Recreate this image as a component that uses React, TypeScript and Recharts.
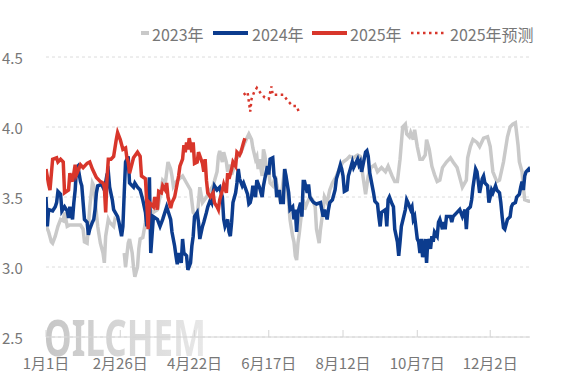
import React from "react";
import { LineChart, Line, XAxis, YAxis, CartesianGrid } from "recharts";

// ---- axis labels ----
const xTickDays = [0, 56, 112, 168, 224, 280, 335];
const xTickLabels = ["1月1日", "2月26日", "4月22日", "6月17日", "8月12日", "10月7日", "12月2日"];
const yTicks = [2.5, 3.0, 3.5, 4.0, 4.5];

// ---- series: [day of year, price] ----
const s2023: Array<[number, number | null]> = [
  [0, 3.30], [2, 3.25], [4, 3.18], [5, 3.17], [7, 3.22], [9, 3.29], [11, 3.34], [13, 3.33], [14, 3.39],
  [16, 3.29], [18, 3.30], [20, 3.30], [26, 3.30], [28, 3.27], [29, 3.18], [31, 3.17], [32, 3.29], [33, 3.43],
  [35, 3.60], [36, 3.58], [37, 3.48], [39, 3.29], [41, 3.17], [43, 3.10], [44, 3.03], [45, 3.22], [47, 3.34],
  [48, 3.32], [51, 3.29], [52, 3.34], [53, 3.33], [56, null], [59, 3.10], [60, 3.00], [62, 3.17], [63, 3.20],
  [65, 3.10], [66, 3.00], [67, 2.93], [69, 3.00], [70, 3.13], [71, 3.20], [73, 3.21], [75, 3.32], [76, 3.40],
  [78, 3.41], [81, 3.39], [84, 3.41], [86, 3.50], [88, 3.62], [90, 3.60], [92, 3.75], [94, 3.70], [95, 3.65],
  [96, 3.58], [97, 3.60], [103, 3.65], [106, 3.60], [109, 3.55], [111, 3.39], [114, 3.36], [115, 3.46],
  [116, 3.57], [118, 3.46], [121, 3.50], [124, 3.55], [126, 3.58], [129, 3.68], [130, 3.79], [131, 3.83],
  [133, 3.75], [134, 3.82], [136, 3.75], [137, 3.68], [139, 3.73], [140, 3.66], [142, 3.72], [143, 3.77],
  [145, 3.79], [147, 3.82], [150, 3.89], [152, 3.93], [153, 3.95], [155, 3.91], [156, 3.85], [158, 3.77],
  [159, 3.79], [160, 3.70], [161, 3.77], [163, 3.65], [164, 3.84], [165, 3.80], [167, 3.65], [168, 3.68],
  [169, 3.60], [171, 3.58], [173, 3.65], [174, 3.59], [176, 3.50], [178, 3.55], [180, 3.70], [181, 3.63],
  [183, 3.46], [184, 3.34], [186, 3.22], [187, 3.18], [188, 3.08], [189, 3.05], [190, 3.17], [191, 3.24],
  [193, 3.41], [194, 3.48], [195, 3.41], [197, 3.46], [199, 3.50], [201, 3.48], [203, 3.43], [204, 3.27],
  [206, 3.17], [207, 3.27], [209, 3.41], [210, 3.50], [212, 3.46], [214, 3.55], [216, 3.60], [219, 3.65],
  [222, 3.72], [224, 3.75], [227, 3.77], [229, 3.79], [232, 3.78], [235, 3.80], [237, 3.79], [239, 3.65],
  [241, 3.52], [243, 3.65], [245, 3.71], [248, 3.73], [250, 3.68], [253, 3.71], [256, 3.68], [258, 3.72],
  [261, 3.65], [263, 3.61], [265, 3.61], [267, 3.77], [269, 4.00], [271, 4.02], [272, 3.95], [274, 3.93],
  [275, 3.96], [277, 3.91], [278, 3.98], [280, 3.86], [282, 3.77], [284, 3.77], [286, 3.80], [287, 3.91],
  [289, 3.84], [291, 3.72], [293, 3.66], [295, 3.61], [297, 3.62], [299, 3.71], [302, 3.75], [305, 3.78],
  [307, 3.75], [310, 3.71], [312, 3.64], [314, 3.57], [317, 3.62], [318, 3.78], [320, 3.86], [322, 3.91],
  [325, 3.89], [327, 3.86], [330, 3.92], [333, 3.93], [335, 3.86], [337, 3.68], [340, 3.61], [342, 3.62],
  [345, 3.75], [348, 3.93], [350, 4.00], [352, 4.02], [354, 4.03], [356, 3.87], [357, 3.75], [359, 3.68],
  [360, 3.57], [361, 3.48], [364, 3.47], [365, 3.47],
];

const s2024: Array<[number, number]> = [
  [0, 3.50], [1, 3.29], [2, 3.41], [5, 3.40], [7, 3.43], [8, 3.46], [9, 3.54], [11, 3.52], [12, 3.40],
  [14, 3.43], [16, 3.40], [17, 3.35], [18, 3.43], [20, 3.34], [21, 3.46], [22, 3.55], [23, 3.71], [24, 3.72],
  [26, 3.61], [27, 3.58], [28, 3.46], [29, 3.34], [31, 3.32], [32, 3.23], [33, 3.27], [35, 3.32], [36, 3.34],
  [37, 3.41], [38, 3.53], [39, 3.58], [42, 3.59], [44, 3.55], [46, 3.66], [47, 3.68], [48, 3.57], [50, 3.48],
  [51, 3.41], [54, 3.36], [55, 3.32], [57, 3.22], [58, 3.29], [59, 3.53], [60, 3.75], [62, 3.79], [63, 3.60],
  [66, 3.57], [67, 3.60], [69, 3.57], [71, 3.55], [73, 3.48], [75, 3.39], [76, 3.29], [78, 3.64], [79, 3.10],
  [81, 3.36], [84, 3.34], [86, 3.29], [88, 3.34], [91, 3.43], [92, 3.40], [94, 3.34], [95, 3.25], [97, 3.15],
  [98, 3.08], [99, 3.02], [100, 3.10], [102, 3.03], [103, 3.20], [104, 3.10], [106, 3.08], [107, 2.98],
  [109, 3.03], [110, 3.15], [111, 3.22], [112, 3.36], [114, 3.39], [115, 3.32], [116, 3.20], [118, 3.29],
  [119, 3.32], [121, 3.39], [122, 3.43], [124, 3.48], [125, 3.46], [126, 3.53], [127, 3.58], [129, 3.55],
  [131, 3.57], [133, 3.50], [134, 3.34], [135, 3.29], [137, 3.34], [138, 3.25], [139, 3.22], [140, 3.32],
  [141, 3.46], [143, 3.53], [144, 3.60], [145, 3.70], [146, 3.63], [148, 3.58], [149, 3.60], [152, 3.52],
  [153, 3.45], [154, 3.46], [155, 3.50], [156, 3.58], [158, 3.50], [159, 3.62], [161, 3.57], [163, 3.50],
  [164, 3.58], [165, 3.63], [167, 3.72], [168, 3.66], [169, 3.77], [171, 3.78], [172, 3.65], [173, 3.63],
  [174, 3.50], [176, 3.55], [177, 3.46], [179, 3.46], [180, 3.70], [181, 3.65], [183, 3.53], [184, 3.41],
  [186, 3.43], [187, 3.34], [188, 3.41], [189, 3.25], [190, 3.39], [192, 3.46], [193, 3.36], [194, 3.61],
  [195, 3.61], [197, 3.53], [198, 3.59], [199, 3.50], [201, 3.47], [202, 3.46], [204, 3.45], [207, 3.46],
  [208, 3.41], [209, 3.36], [210, 3.41], [212, 3.34], [213, 3.41], [214, 3.46], [216, 3.48], [218, 3.55],
  [219, 3.63], [220, 3.66], [222, 3.73], [223, 3.70], [224, 3.65], [225, 3.54], [227, 3.55], [228, 3.65],
  [231, 3.75], [232, 3.71], [235, 3.77], [236, 3.73], [237, 3.75], [238, 3.68], [241, 3.82], [242, 3.83],
  [243, 3.79], [244, 3.68], [246, 3.58], [247, 3.53], [248, 3.47], [250, 3.45], [251, 3.36], [252, 3.29],
  [253, 3.39], [256, 3.41], [257, 3.29], [258, 3.48], [259, 3.50], [261, 3.45], [262, 3.43], [263, 3.27],
  [265, 3.18], [266, 3.08], [267, 3.18], [268, 3.29], [271, 3.41], [272, 3.48], [273, 3.46], [275, 3.41],
  [276, 3.43], [277, 3.34], [278, 3.36], [280, 3.20], [281, 3.18], [282, 3.10], [283, 3.20], [284, 3.07],
  [286, 3.20], [287, 3.03], [288, 3.20], [290, 3.13], [291, 3.22], [292, 3.18], [293, 3.25], [295, 3.22],
  [296, 3.32], [297, 3.34], [299, 3.27], [300, 3.32], [301, 3.27], [302, 3.36], [305, 3.36], [306, 3.32],
  [307, 3.36], [310, 3.39], [312, 3.41], [314, 3.36], [316, 3.41], [317, 3.27], [318, 3.41], [320, 3.43],
  [321, 3.48], [322, 3.57], [324, 3.70], [325, 3.68], [326, 3.61], [327, 3.53], [329, 3.63], [330, 3.65],
  [331, 3.60], [333, 3.58], [334, 3.46], [335, 3.50], [336, 3.55], [337, 3.53], [339, 3.58], [340, 3.55],
  [342, 3.53], [343, 3.46], [344, 3.36], [345, 3.28], [346, 3.27], [348, 3.34], [350, 3.36], [351, 3.43],
  [352, 3.45], [354, 3.46], [355, 3.50], [357, 3.52], [358, 3.57], [359, 3.61], [360, 3.55], [361, 3.65],
  [362, 3.68], [364, 3.70], [365, 3.68],
];

const s2025: Array<[number, number]> = [
  [0, 3.70], [2, 3.59], [3, 3.55], [5, 3.77], [8, 3.78], [9, 3.75], [11, 3.77], [13, 3.75], [14, 3.53],
  [17, 3.55], [18, 3.67], [20, 3.61], [22, 3.73], [23, 3.66], [26, 3.73], [28, 3.71], [31, 3.74], [33, 3.75],
  [35, 3.70], [38, 3.64], [41, 3.61], [43, 3.60], [44, 3.57], [45, 3.39], [46, 3.63], [47, 3.77], [49, 3.77],
  [51, 3.79], [53, 3.91], [54, 3.96], [56, 3.91], [58, 3.84], [60, 3.85], [61, 3.78], [62, 3.75], [63, 3.67],
  [66, 3.78], [69, 3.82], [71, 3.79], [72, 3.65], [75, 3.63], [76, 3.46], [77, 3.27], [78, 3.46], [81, 3.43],
  [82, 3.50], [84, 3.41], [85, 3.54], [87, 3.53], [88, 3.58], [90, 3.55], [91, 3.60], [92, 3.50], [94, 3.42],
  [95, 3.46], [97, 3.50], [100, 3.65], [101, 3.72], [103, 3.77], [104, 3.87], [105, 3.82], [106, 3.89],
  [107, 3.84], [108, 3.92], [110, 3.82], [111, 3.89], [112, 3.74], [114, 3.75], [115, 3.82], [118, 3.74],
  [119, 3.68], [120, 3.77], [121, 3.62], [122, 3.53], [124, 3.50], [126, 3.53], [127, 3.46], [129, 3.43],
  [130, 3.41], [131, 3.48], [133, 3.55], [134, 3.59], [136, 3.53], [137, 3.67], [138, 3.63], [140, 3.70],
  [141, 3.75], [143, 3.72], [144, 3.82], [146, 3.80], [147, 3.82], [149, 3.89], [150, 3.92],
];

const s2025f: Array<[number, number]> = [
  [149, 4.23], [152, 4.25], [154, 4.11], [155, 4.20], [157, 4.25], [159, 4.28], [162, 4.24], [165, 4.21],
  [168, 4.20], [170, 4.29], [171, 4.23], [174, 4.23], [179, 4.23], [182, 4.19], [186, 4.15], [189, 4.15],
  [191, 4.10],
];

const toRows = (s: Array<[number, number | null]>) => s.map(([d, v]) => ({ d, v }));

const FONT = "'Noto Sans CJK SC', 'Noto Sans', sans-serif";
const TXT = "#777777";
const GRAY = "#c9c9c9";
const BLUE = "#0c3c8e";
const RED = "#d8362b";

const XTick = (props: any) => {
  const { x, y, payload } = props;
  const i = xTickDays.indexOf(payload.value);
  return (
    <g>
      <line x1={x} x2={x} y1={y} y2={y - 7} stroke="#d4d4d4" strokeWidth={1} />
      <text x={x} y={y + 25} textAnchor="middle" dominantBaseline="central" fill={TXT} fontSize={15} fontFamily={FONT}>
        {i >= 0 ? xTickLabels[i] : ""}
      </text>
    </g>
  );
};

const YTick = (props: any) => {
  const { y, payload } = props;
  return (
    <text x={2} y={y} textAnchor="start" dominantBaseline="central" fill={TXT} fontSize={15} fontFamily={FONT}>
      {Number(payload.value).toFixed(1)}
    </text>
  );
};

const legendText: React.CSSProperties = {
  position: "absolute",
  top: 23,
  fontSize: 16,
  lineHeight: "22px",
  color: TXT,
  fontFamily: FONT,
  whiteSpace: "nowrap",
};

const LegendBar = ({ left, width, color, dotted }: { left: number; width: number; color: string; dotted?: boolean }) => (
  <svg style={{ position: "absolute", left, top: 29 }} width={width} height={8}>
    <line
      x1={0}
      x2={width}
      y1={4}
      y2={4}
      stroke={color}
      strokeWidth={dotted ? 2.5 : 4}
      strokeDasharray={dotted ? "2.5 3.5" : undefined}
    />
  </svg>
);

export default function App() {
  return (
    <div style={{ position: "fixed", left: 0, top: 0, width: 567, height: 378, background: "#fff", overflow: "visible" }}>
      <div
        style={{
          position: "absolute",
          left: 44,
          top: 312,
          fontSize: 50,
          lineHeight: 1,
          fontFamily: "'Noto Sans', sans-serif",
          fontWeight: 700,
          transform: "scaleX(0.7)",
          transformOrigin: "left top",
          background: "linear-gradient(to right, #c6c6c6, #e8e8e8)",
          WebkitBackgroundClip: "text",
          backgroundClip: "text",
          color: "transparent",
          whiteSpace: "nowrap",
        }}
      >
        OILCHEM
      </div>
      <LineChart width={567} height={378} margin={{ top: 57, right: 37, bottom: 0, left: 0 }}>
        <CartesianGrid vertical={false} stroke="#dcdcdc" strokeDasharray="3 3" />
        <XAxis
          dataKey="d"
          type="number"
          domain={[0, 365]}
          ticks={xTickDays}
          interval={0}
          height={41}
          axisLine={{ stroke: "#d4d4d4" }}
          tickLine={false}
          tickSize={0}
          tickMargin={0}
          tick={<XTick />}
          allowDataOverflow
        />
        <YAxis
          type="number"
          domain={[2.5, 4.5]}
          ticks={yTicks}
          interval={0}
          width={46}
          axisLine={false}
          tickLine={false}
          tick={<YTick />}
          allowDataOverflow
        />
        <Line data={toRows(s2023)} dataKey="v" type="linear" stroke={GRAY} strokeWidth={3.5} dot={false} isAnimationActive={false} connectNulls={false} />
        <Line data={toRows(s2024)} dataKey="v" type="linear" stroke={BLUE} strokeWidth={3.5} dot={false} isAnimationActive={false} />
        <Line data={toRows(s2025)} dataKey="v" type="linear" stroke={RED} strokeWidth={3.5} dot={false} isAnimationActive={false} />
        <Line data={toRows(s2025f)} dataKey="v" type="linear" stroke={RED} strokeWidth={2.5} strokeDasharray="2.5 3.5" dot={false} isAnimationActive={false} />
      </LineChart>
      <LegendBar left={141} width={8} color={GRAY} />
      <div style={{ ...legendText, left: 152 }}>2023年</div>
      <LegendBar left={213} width={35} color={BLUE} />
      <div style={{ ...legendText, left: 252 }}>2024年</div>
      <LegendBar left={312} width={35} color={RED} />
      <div style={{ ...legendText, left: 350 }}>2025年</div>
      <LegendBar left={411} width={35} color={RED} dotted />
      <div style={{ ...legendText, left: 450 }}>2025年预测</div>
    </div>
  );
}
